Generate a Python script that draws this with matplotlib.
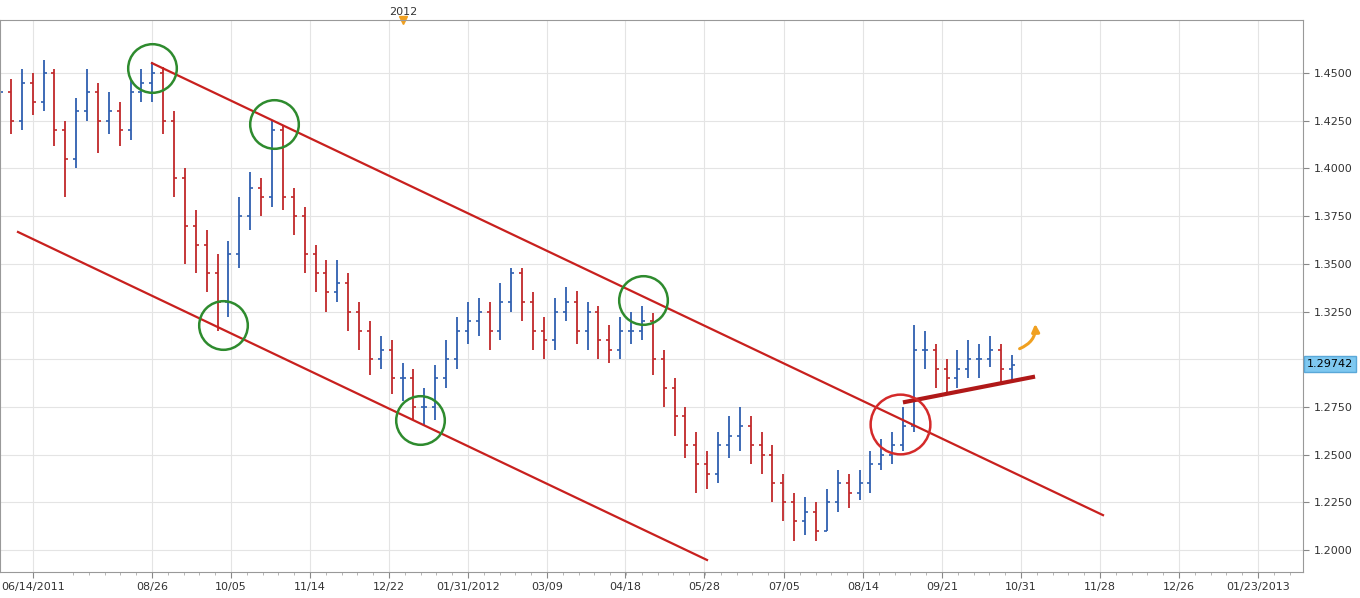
import numpy as np
import matplotlib.pyplot as plt

# one bar per ~4 trading days; x is in chart columns (0..1303)
closes = [1.440, 1.425, 1.445, 1.435, 1.450, 1.420, 1.405, 1.430, 1.440, 1.425,
          1.430, 1.420, 1.440, 1.445, 1.450, 1.425, 1.395, 1.370, 1.360, 1.345,
          1.330, 1.355, 1.375, 1.390, 1.385, 1.420, 1.385, 1.375, 1.355, 1.345,
          1.335, 1.340, 1.325, 1.315, 1.300, 1.305, 1.290, 1.290, 1.275, 1.275,
          1.290, 1.300, 1.315, 1.320, 1.325, 1.315, 1.330, 1.345, 1.330, 1.315,
          1.310, 1.325, 1.330, 1.315, 1.325, 1.310, 1.305, 1.315, 1.315, 1.320,
          1.300, 1.285, 1.270, 1.255, 1.245, 1.240, 1.255, 1.260, 1.265, 1.255,
          1.250, 1.235, 1.225, 1.215, 1.220, 1.210, 1.225, 1.235, 1.230, 1.235,
          1.245, 1.250, 1.255, 1.265, 1.305, 1.305, 1.295, 1.290, 1.295, 1.300,
          1.300, 1.305, 1.295, 1.297]
highs = [1.448, 1.447, 1.452, 1.450, 1.457, 1.452, 1.425, 1.437, 1.452, 1.445,
         1.440, 1.435, 1.447, 1.452, 1.456, 1.453, 1.430, 1.400, 1.378, 1.368,
         1.355, 1.362, 1.385, 1.398, 1.395, 1.425, 1.422, 1.390, 1.380, 1.360,
         1.352, 1.352, 1.345, 1.330, 1.320, 1.312, 1.310, 1.298, 1.295, 1.285,
         1.297, 1.310, 1.322, 1.330, 1.332, 1.330, 1.340, 1.348, 1.348, 1.335,
         1.322, 1.332, 1.338, 1.336, 1.330, 1.328, 1.318, 1.322, 1.325, 1.328,
         1.324, 1.305, 1.290, 1.275, 1.262, 1.252, 1.262, 1.270, 1.275, 1.270,
         1.262, 1.255, 1.240, 1.230, 1.228, 1.225, 1.232, 1.242, 1.240, 1.242,
         1.252, 1.258, 1.262, 1.275, 1.318, 1.315, 1.308, 1.300, 1.305, 1.310,
         1.308, 1.312, 1.308, 1.302]
lows = [1.428, 1.418, 1.420, 1.428, 1.430, 1.412, 1.385, 1.400, 1.425, 1.408,
        1.418, 1.412, 1.415, 1.435, 1.435, 1.418, 1.385, 1.350, 1.345, 1.335,
        1.315, 1.322, 1.348, 1.368, 1.375, 1.380, 1.378, 1.365, 1.345, 1.335,
        1.325, 1.330, 1.315, 1.305, 1.292, 1.295, 1.282, 1.278, 1.268, 1.265,
        1.268, 1.285, 1.295, 1.308, 1.312, 1.305, 1.310, 1.325, 1.320, 1.305,
        1.300, 1.305, 1.320, 1.308, 1.305, 1.300, 1.298, 1.300, 1.308, 1.310,
        1.292, 1.275, 1.260, 1.248, 1.230, 1.232, 1.235, 1.248, 1.252, 1.245,
        1.240, 1.225, 1.215, 1.205, 1.208, 1.205, 1.210, 1.220, 1.222, 1.226,
        1.230, 1.242, 1.245, 1.252, 1.262, 1.295, 1.285, 1.282, 1.285, 1.290,
        1.290, 1.296, 1.288, 1.289]
first_open = 1.435
bar_step = 10.88

tick_pos = [33, 152, 231, 310, 389, 468, 547, 625, 704, 784, 863, 942, 1021,
            1100, 1179, 1258]
tick_labels = ["06/14/2011", "08/26", "10/05", "11/14", "12/22", "01/31/2012", "03/09",
               "04/18", "05/28", "07/05", "08/14", "09/21", "10/31", "11/28", "12/26",
               "01/23/2013"]

# channel lines and annotations (column, price)
upper_line = ([152, 1103], [1.4552, 1.2183])
lower_line = ([18, 707], [1.3667, 1.1948])
break_line = ([905, 1033], [1.2776, 1.2907])
green_circles = [(152, 1.4527), (274, 1.4235), (223, 1.3181), (420, 1.2683), (643, 1.3310)]
red_circle = (900, 1.2662)
last_price = 1.29742
year_mark = (403, "2012")

n = len(closes)
x = np.arange(n) * bar_step
opens = [first_open] + closes[:-1]

fig = plt.figure(figsize=(13.6, 5.98), dpi=100)
ax = fig.add_axes([0.0, 26 / 598, 1303 / 1360, 552 / 598])
ax.set_facecolor("white")

up_col, dn_col = "#2f5fb0", "#c0282a"
for xi, o, h, l, c in zip(x, opens, highs, lows, closes):
    col = up_col if c >= o else dn_col
    ax.vlines(xi, l, h, color=col, lw=1.3)
    ax.hlines(o, xi - 3, xi, color=col, lw=1.2)
    ax.hlines(c, xi, xi + 3, color=col, lw=1.2)

ax.plot(*upper_line, color="#c8201e", lw=1.6)
ax.plot(*lower_line, color="#c8201e", lw=1.6)
ax.plot(*break_line, color="#b01818", lw=3)

for cx, cy in green_circles:
    ax.plot(cx, cy, "o", ms=35, mfc="none", mec="#2e8b2e", mew=1.8)
ax.plot(*red_circle, "o", ms=43, mfc="none", mec="#d42a2a", mew=1.8)

ax.annotate("", xy=(1035, 1.3200), xytext=(1017, 1.3050),
            arrowprops=dict(arrowstyle="-|>", color="#f0a020", lw=2.2,
                            connectionstyle="arc3,rad=0.4", mutation_scale=11))

ylo, yhi = 1.1885, 1.4778
ax.set_xlim(0, 1303)
ax.set_ylim(ylo, yhi)
ax.yaxis.tick_right()
yt = np.arange(1.200, 1.4501, 0.025)
ax.set_yticks(yt)
ax.set_yticklabels(["" if abs(v - 1.3) < 1e-6 else f"{v:.4f}" for v in yt],
                   fontsize=8, color="#333333")
ax.set_xticks(tick_pos)
ax.set_xticklabels(tick_labels, fontsize=8, color="#333333")
ax.set_xticks(np.arange(73, 1303, 15.8), minor=True)
ax.tick_params(length=4, color="#888888")
ax.tick_params(which="minor", length=2, color="#aaaaaa")
ax.grid(True, color="#e4e4e4", lw=0.8)
for s in ax.spines.values():
    s.set_color("#999999")

ax.text(1.003, (last_price - ylo) / (yhi - ylo), f"{last_price:.5f}",
        transform=ax.transAxes, fontsize=8, va="center", ha="left",
        bbox=dict(boxstyle="square,pad=0.25", fc="#7ec8f0", ec="#5aa8d8"))

# top strip with year marker
ax.text(year_mark[0], 1.006, year_mark[1], transform=ax.get_xaxis_transform(),
        fontsize=8, ha="center", va="bottom", color="#333333")
ax.plot(year_mark[0], yhi, marker="v", color="#f0a020", ms=6, clip_on=False)

fig.savefig("out.png", dpi=100, facecolor="white")
